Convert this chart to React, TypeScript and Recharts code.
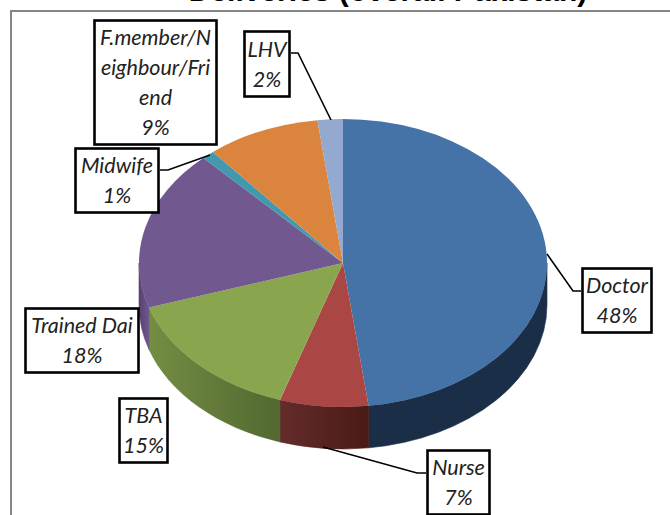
import React from "react";
import { PieChart, Pie } from "recharts";

const categories = ["Doctor", "Nurse", "TBA", "Trained Dai", "Midwife", "F.member/Neighbour/Friend", "LHV"];
const shares = [48, 7, 15, 18, 1, 9, 2];
const labelLines = [["Doctor"], ["Nurse"], ["TBA"], ["Trained Dai"], ["Midwife"], ["F.member/N", "eighbour/Fri", "end"], ["LHV"]];
const chartTitle = "Deliveries (overall Pakistan)";

const topColors = ["#4572a7", "#aa4643", "#89a54e", "#71588f", "#4198af", "#db843d", "#93a9cf"];
const wallLeft = ["#1b2e47", "#642c2b", "#748d43", "#56426f", "#2c6a7a", "#8f5526", "#5f6f8a"];
const wallRight = ["#1b2e47", "#4a1a16", "#526830", "#6f578c", "#2c6a7a", "#8f5526", "#5f6f8a"];

// label box layout: left, top, right, bottom, leader polyline
const boxes = [
  { x0: 581, y0: 267, x1: 653, y1: 334, lead: "547,254 573,291 581,291" },
  { x0: 426, y0: 449, x1: 491, y1: 516, lead: "323,447 417,473 426,473" },
  { x0: 118, y0: 397, x1: 169, y1: 464, lead: "" },
  { x0: 24, y0: 307, x1: 140, y1: 374, lead: "" },
  { x0: 74, y0: 147, x1: 160, y1: 214, lead: "160,170 168,170 210,155" },
  { x0: 93, y0: 19, x1: 218, y1: 146, lead: "" },
  { x0: 243, y0: 30, x1: 291, y1: 98, lead: "291,53 298,53 331,120" },
];

const data = categories.map((name, i) => ({ name, value: shares[i] }));

const SQUASH = 144 / 204;
const DEPTH = 42;
const rad = (a: number) => (a * Math.PI) / 180;
const px = (p: any, a: number) => p.cx + p.outerRadius * Math.cos(rad(a));
const py = (p: any, a: number) => p.cy - p.outerRadius * SQUASH * Math.sin(rad(a));

function TopShape(p: any) {
  const { startAngle: s, endAngle: e, outerRadius: r } = p;
  const large = Math.abs(s - e) > 180 ? 1 : 0;
  const d = `M${p.cx},${p.cy} L${px(p, s)},${py(p, s)} A${r},${r * SQUASH} 0 ${large} 1 ${px(p, e)},${py(p, e)} Z`;
  return <path d={d} fill={topColors[p.index]} />;
}

function WallShape(p: any) {
  const s = Math.min(p.startAngle, 0);
  const e = Math.max(p.endAngle, -180);
  if (s <= e) return <g />;
  const r = p.outerRadius;
  const ry = r * SQUASH;
  const d =
    `M${px(p, s)},${py(p, s)} A${r},${ry} 0 0 1 ${px(p, e)},${py(p, e)} ` +
    `L${px(p, e)},${py(p, e) + DEPTH} A${r},${ry} 0 0 0 ${px(p, s)},${py(p, s) + DEPTH} Z`;
  const id = `wall-${p.index}`;
  return (
    <g>
      <defs>
        <linearGradient id={id} x1="0" y1="0" x2="1" y2="0">
          <stop offset="0" stopColor={wallLeft[p.index]} />
          <stop offset="1" stopColor={wallRight[p.index]} />
        </linearGradient>
      </defs>
      <path d={d} fill={`url(#${id})`} stroke={`url(#${id})`} strokeWidth={0.6} />
    </g>
  );
}

function BoxLabel(p: any) {
  const b = boxes[p.index];
  const lines = [...labelLines[p.index], `${shares[p.index]}%`];
  const mid = (b.x0 + b.x1) / 2;
  const first = (b.y0 + b.y1) / 2 - (lines.length * 30) / 2 + 22.5;
  return (
    <g>
      <rect
        x={b.x0 + 1.5}
        y={b.y0 + 1.5}
        width={b.x1 - b.x0 - 3}
        height={b.y1 - b.y0 - 3}
        fill="#ffffff"
        stroke="#000000"
        strokeWidth={2.6}
      />
      {lines.map((t, i) => (
        <text
          key={i}
          x={mid}
          y={first + i * 30}
          textAnchor="middle"
          fontFamily="Lato"
          fontStyle="italic"
          fontSize={21.5}
          fill="#222222"
        >
          {t}
        </text>
      ))}
    </g>
  );
}

function LeaderLine(p: any) {
  const b = boxes[p.index];
  if (!b.lead) return <g />;
  return <polyline points={b.lead} fill="none" stroke="#000000" strokeWidth={1.6} />;
}

export default function App() {
  return (
    <div style={{ position: "absolute", left: 0, top: 0, width: 670, height: 515, overflow: "hidden", background: "#fff" }}>
      <PieChart width={670} height={515} margin={{ top: 0, right: 0, bottom: 0, left: 0 }}>
        <path d="M11,516 L11,11 L670,11" fill="none" stroke="#868686" strokeWidth={2} />
        <text x={388} y={1} textAnchor="middle" fontFamily="Liberation Sans" fontWeight="bold" fontSize={30} fill="#000000">
          {chartTitle}
        </text>
        <Pie
          data={data}
          dataKey="value"
          nameKey="name"
          cx={343}
          cy={263}
          outerRadius={204}
          startAngle={90}
          endAngle={-270}
          stroke="none"
          isAnimationActive={false}
          shape={WallShape}
        />
        <Pie
          data={data}
          dataKey="value"
          nameKey="name"
          cx={343}
          cy={263}
          outerRadius={204}
          startAngle={90}
          endAngle={-270}
          stroke="none"
          isAnimationActive={false}
          shape={TopShape}
          label={BoxLabel}
          labelLine={LeaderLine}
        />
      </PieChart>
    </div>
  );
}
